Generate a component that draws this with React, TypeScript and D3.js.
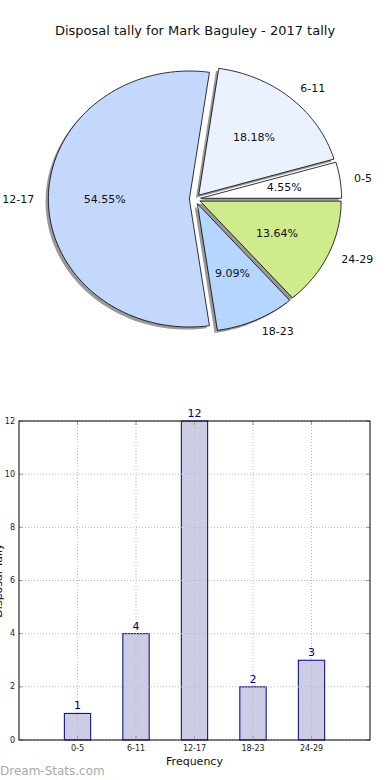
import React from "react";
import * as d3 from "d3";

const categories = ["0-5", "6-11", "12-17", "18-23", "24-29"];
const counts = [1, 4, 12, 2, 3];
const sliceColors = ["#ffffff", "#eaf1ff", "#c4d8fe", "#b4d6ff", "#cfeb8b"];
const yTicks = [0, 2, 4, 6, 8, 10, 12];
const title = "Disposal tally for Mark Baguley - 2017 tally";

const W = 390;
const H = 780;
const FONT = "DejaVu Sans, sans-serif";

export default function App() {
  // ---- Pie ----
  const cx = 195, cy = 199, rx = 141, ry = 128;
  const explode = 0.04;
  const total = d3.sum(counts);
  const toDeg = d3.scaleLinear().domain([0, total]).range([0, 360]);
  let acc = 0;
  const slices = counts.map((v, i) => {
    const a0 = toDeg(acc);
    acc += v;
    const a1 = toDeg(acc);
    return { i, v, a0, a1 };
  });

  const pt = (ox: number, oy: number, deg: number, f: number) => {
    const r = (deg * Math.PI) / 180;
    return [ox + f * rx * Math.cos(r), oy - f * ry * Math.sin(r)];
  };

  const wedgePath = (ox: number, oy: number, a0: number, a1: number) => {
    const n = Math.max(8, Math.ceil((a1 - a0) / 2));
    const pts: [number, number][] = [[ox, oy]];
    for (let k = 0; k <= n; k++) {
      const a = a0 + ((a1 - a0) * k) / n;
      pts.push(pt(ox, oy, a, 1) as [number, number]);
    }
    return d3.line()(pts) + "Z";
  };

  const sliceGeo = slices.map((s) => {
    const mid = (s.a0 + s.a1) / 2;
    const [ox, oy] = pt(cx, cy, mid, explode);
    return { ...s, mid, ox, oy };
  });

  // ---- Bars ----
  const left = 19, right = 370, top = 421, bottom = 740;
  const x = d3.scaleLinear().domain([0, 6]).range([left, right]);
  const y = d3.scaleLinear().domain([0, 12]).range([bottom, top]);
  const bw = x(0.45) - x(0);

  return (
    <svg width={W} height={H} style={{ position: "absolute", left: 0, top: 0, background: "#fff" }} fontFamily={FONT}>
      <rect width={W} height={H} fill="#fff" />
      <text x={195} y={35} textAnchor="middle" fontSize={13} fill="#111">{title}</text>

      {/* shadows */}
      {sliceGeo.map((s) => (
        <path key={"sh" + s.i} d={wedgePath(s.ox - 2.8, s.oy + 2.6, s.a0, s.a1)} fill="#000" fillOpacity={0.4} />
      ))}
      {/* slices */}
      {sliceGeo.map((s) => (
        <path key={"sl" + s.i} d={wedgePath(s.ox, s.oy, s.a0, s.a1)} fill={sliceColors[s.i]} stroke="#000" strokeWidth={0.8} strokeLinejoin="round" />
      ))}
      {/* labels */}
      {sliceGeo.map((s) => {
        const [lx, ly] = pt(s.ox, s.oy, s.mid, 1.1);
        const [px, py] = pt(s.ox, s.oy, s.mid, 0.6);
        const anchor = Math.cos((s.mid * Math.PI) / 180) >= 0 ? "start" : "end";
        return (
          <g key={"lb" + s.i} fontSize={11} fill="#111">
            <text x={lx} y={ly} textAnchor={anchor} dominantBaseline="central">{categories[s.i]}</text>
            <text x={px} y={py} textAnchor="middle" dominantBaseline="central">{((s.v / total) * 100).toFixed(2) + "%"}</text>
          </g>
        );
      })}

      {/* bars */}
      {counts.map((v, i) => (
        <rect key={"b" + i} x={x(i + 1) - bw / 2} y={y(v)} width={bw} height={y(0) - y(v)} fill="#ccccE4" stroke="#000080" strokeWidth={1} />
      ))}
      {/* grid */}
      {yTicks.map((t) => (
        <line key={"gy" + t} x1={left} x2={right} y1={y(t)} y2={y(t)} stroke="#bbb" strokeWidth={1} strokeDasharray="1,2" />
      ))}
      {categories.map((c, i) => (
        <line key={"gx" + i} x1={x(i + 1)} x2={x(i + 1)} y1={top} y2={bottom} stroke="#bbb" strokeWidth={1} strokeDasharray="1,2" />
      ))}
      {/* ticks */}
      {yTicks.map((t) => (
        <g key={"ty" + t}>
          <line x1={left} x2={left + 4} y1={y(t)} y2={y(t)} stroke="#999" />
          <line x1={right - 4} x2={right} y1={y(t)} y2={y(t)} stroke="#999" />
          <text x={left - 4} y={y(t)} textAnchor="end" dominantBaseline="central" fontSize={8} fill="#222">{t}</text>
        </g>
      ))}
      {categories.map((c, i) => (
        <g key={"tx" + i}>
          <line x1={x(i + 1)} x2={x(i + 1)} y1={bottom} y2={bottom - 4} stroke="#999" />
          <line x1={x(i + 1)} x2={x(i + 1)} y1={top} y2={top + 4} stroke="#999" />
          <text x={x(i + 1)} y={bottom + 8} textAnchor="middle" dominantBaseline="central" fontSize={8} fill="#222">{c}</text>
        </g>
      ))}
      <rect x={left} y={top} width={right - left} height={bottom - top} fill="none" stroke="#000" strokeWidth={1} />
      {/* value labels */}
      {counts.map((v, i) => (
        <text key={"v" + i} x={x(i + 1)} y={y(v) - 4} textAnchor="middle" fontSize={11} fill="#000080">{v}</text>
      ))}
      <text x={(left + right) / 2} y={765} textAnchor="middle" fontSize={11} fill="#111">Frequency</text>
      <text transform={`translate(2,${(top + bottom) / 2}) rotate(-90)`} textAnchor="middle" fontSize={11} fill="#111">Disposal Tally</text>
      <text x={0} y={775} fontSize={12} fill="#aaa">Dream-Stats.com</text>
    </svg>
  );
}
